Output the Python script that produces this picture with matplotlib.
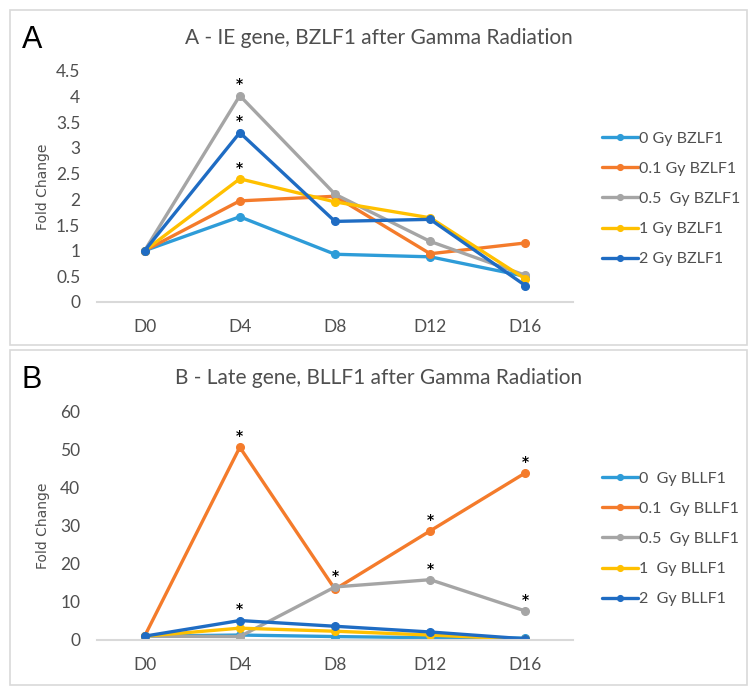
import matplotlib
matplotlib.use("Agg")
import matplotlib.pyplot as plt
from matplotlib.patches import Rectangle

# data
days = ["D0", "D4", "D8", "D12", "D16"]

bzlf1_0 = [1.0, 1.66, 0.93, 0.88, 0.50]
bzlf1_01 = [1.0, 1.97, 2.06, 0.94, 1.15]
bzlf1_05 = [1.0, 4.02, 2.10, 1.18, 0.52]
bzlf1_1 = [1.0, 2.40, 1.95, 1.64, 0.45]
bzlf1_2 = [1.0, 3.30, 1.57, 1.61, 0.32]

bllf1_0 = [1.0, 1.3, 0.9, 0.6, 0.5]
bllf1_01 = [1.0, 50.5, 13.3, 28.6, 43.8]
bllf1_05 = [1.0, 0.9, 13.9, 15.8, 7.6]
bllf1_1 = [1.0, 3.1, 2.3, 1.3, 0.2]
bllf1_2 = [1.0, 5.1, 3.6, 2.1, 0.3]

# (series index, day index) with a significance star
stars_a = [(2, 1), (4, 1), (3, 1)]
stars_b = [(1, 1), (4, 1), (2, 2), (1, 3), (2, 3), (1, 4), (2, 4)]

labels_a = ["0 Gy BZLF1", "0.1 Gy BZLF1", "0.5  Gy BZLF1", "1 Gy BZLF1", "2 Gy BZLF1"]
labels_b = ["0  Gy BLLF1", "0.1  Gy BLLF1", "0.5  Gy BLLF1", "1  Gy BLLF1", "2  Gy BLLF1"]

colors = ["#2E9CD8", "#F47B2B", "#A5A5A5", "#FFC000", "#1F6CC3"]
grey_txt = "#4F4F4F"
plt.rcParams['font.family'] = ['Lato', 'DejaVu Sans']

W, H = 756, 694
fig = plt.figure(figsize=(W / 100, H / 100), dpi=100)


def fx(px):
    return px / W


def fy(py):
    return 1 - py / H


def panel(top, bottom, ax_top, ax_bot, series, labels, ymax, yticks, ytl,
          title, letter, stars, leg_center):
    fig.patches.append(Rectangle((fx(10), fy(bottom)), fx(737), (bottom - top) / H,
                                 transform=fig.transFigure, fill=False,
                                 edgecolor="#D9D9D9", linewidth=1.2))
    ax = fig.add_axes([fx(97), fy(ax_bot), fx(476), (ax_bot - ax_top) / H])
    x = range(len(days))
    for vals, c, lab in zip(series, colors, labels):
        ax.plot(x, vals, color=c, lw=2.4, marker="o", ms=5.5, label=lab,
                solid_capstyle="round")
    for si, di in stars:
        ax.annotate("*", (di, series[si][di]), xytext=(0, 3),
                    textcoords="offset points", ha="center", va="bottom",
                    fontsize=10, fontweight="bold", color="black",
                    family="DejaVu Sans")
    ax.set_xlim(-0.5, len(days) - 0.5)
    ax.set_ylim(0, ymax)
    ax.set_yticks(yticks)
    ax.set_yticklabels(ytl)
    ax.set_xticks(list(x))
    ax.set_xticklabels(days)
    for s in ["top", "right", "left"]:
        ax.spines[s].set_visible(False)
    ax.spines["bottom"].set_color("#D9D9D9")
    ax.spines["bottom"].set_linewidth(1.5)
    ax.tick_params(length=0, labelsize=12.5, colors=grey_txt)
    ax.tick_params(axis="x", pad=12)
    ax.tick_params(axis="y", pad=12)
    ax.set_ylabel("Fold Change", family="DejaVu Sans", fontsize=10,
                  color=grey_txt)
    ax.yaxis.set_label_coords((50 - 97) / 476, 0.5)
    ax.patch.set_alpha(0)
    fig.text(fx(379), fy(top + 28), title, ha="center", va="center",
             fontsize=15, color=grey_txt)
    fig.text(fx(22), fy(top + 30), letter, ha="left", va="center",
             fontsize=22, color="black", family="Liberation Sans")
    leg = ax.legend(loc="center left", bbox_to_anchor=(fx(588), fy(leg_center)),
                    bbox_transform=fig.transFigure, frameon=False, fontsize=11.5,
                    handlelength=2.2, handletextpad=0.1, labelspacing=1.0,
                    markerscale=0.75)
    for t in leg.get_texts():
        t.set_color(grey_txt)
    return ax


panel(10, 345, 71, 302, [bzlf1_0, bzlf1_01, bzlf1_05, bzlf1_1, bzlf1_2], labels_a,
      4.5, [0, 0.5, 1, 1.5, 2, 2.5, 3, 3.5, 4, 4.5],
      ["0", "0.5", "1", "1.5", "2", "2.5", "3", "3.5", "4", "4.5"],
      "A - IE gene, BZLF1 after Gamma Radiation", "A", stars_a, 199)

panel(350, 685, 411, 640, [bllf1_0, bllf1_01, bllf1_05, bllf1_1, bllf1_2], labels_b,
      60, [0, 10, 20, 30, 40, 50, 60],
      ["0", "10", "20", "30", "40", "50", "60"],
      "B - Late gene, BLLF1 after Gamma Radiation", "B", stars_b, 539)

fig.savefig("out.png", dpi=100)
